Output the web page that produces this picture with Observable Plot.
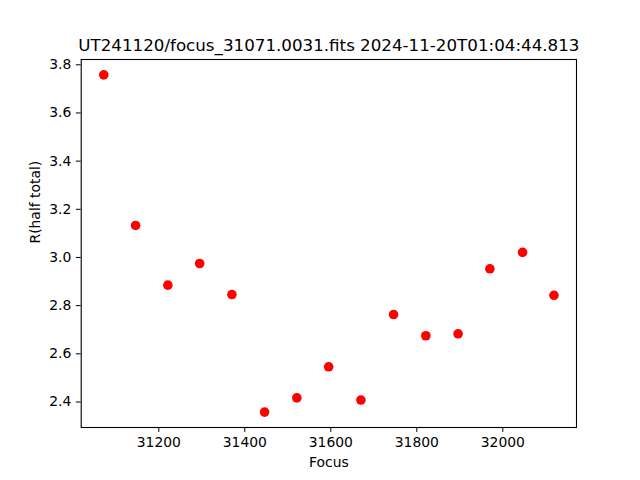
<!DOCTYPE html>
<html>
<head>
<meta charset="utf-8">
<script src="https://cdn.jsdelivr.net/npm/d3@7"></script>
<script src="https://cdn.jsdelivr.net/npm/@observablehq/plot@0.6"></script>
<style>
  html, body { margin: 0; padding: 0; background: white; }
</style>
</head>
<body>
<div id="chart"></div>
<script>
const titleText = "UT241120/focus_31071.0031.fits 2024-11-20T01:04:44.813";
const xLabel = "Focus";
const yLabel = "R(half total)";
const focus = [31072, 31146, 31221, 31295, 31370, 31446, 31521, 31595, 31670, 31746, 31821, 31896, 31970, 32046, 32119];
const rHalf = [3.758, 3.133, 2.885, 2.975, 2.846, 2.358, 2.417, 2.546, 2.408, 2.763, 2.675, 2.683, 2.953, 3.021, 2.843];
const xTicks = [31200, 31400, 31600, 31800, 32000];
const yTicks = [2.4, 2.6, 2.8, 3.0, 3.2, 3.4, 3.6, 3.8];
const xDomain = [31019.5, 32171.4];
const yDomain = [2.294, 3.822];

const data = focus.map((f, i) => ({focus: f, r: rHalf[i]}));

const chart = Plot.plot({
  width: 640,
  height: 480,
  marginLeft: 80.7,
  marginRight: 64,
  marginTop: 59,
  marginBottom: 53,
  style: {fontFamily: "DejaVu Sans", fontSize: "13.9px", color: "black", background: "white"},
  x: {domain: xDomain},
  y: {domain: yDomain},
  marks: [
    Plot.frame({stroke: "black", strokeWidth: 1.1}),
    Plot.dot(data, {x: "focus", y: "r", r: 4.8, fill: "red", stroke: "none"}),
    Plot.axisX({ticks: xTicks, tickSize: 4.9, tickPadding: 5, tickFormat: d3.format("d"), label: null, fontSize: 13.9}),
    Plot.axisY({ticks: yTicks, tickSize: 4.9, tickPadding: 5, tickFormat: d3.format(".1f"), label: null, fontSize: 13.9}),
    Plot.text([xLabel], {text: d => d, frameAnchor: "bottom", dy: 35.5, lineAnchor: "middle", fontSize: 13.9}),
    Plot.text([yLabel], {text: d => d, frameAnchor: "left", dx: -46, rotate: -90, lineAnchor: "middle", fontSize: 13.9}),
    Plot.text([titleText], {text: d => d, frameAnchor: "top", dy: -8.3, lineAnchor: "bottom", fontSize: 16.7})
  ]
});
document.getElementById("chart").appendChild(chart);
</script>
</body>
</html>
